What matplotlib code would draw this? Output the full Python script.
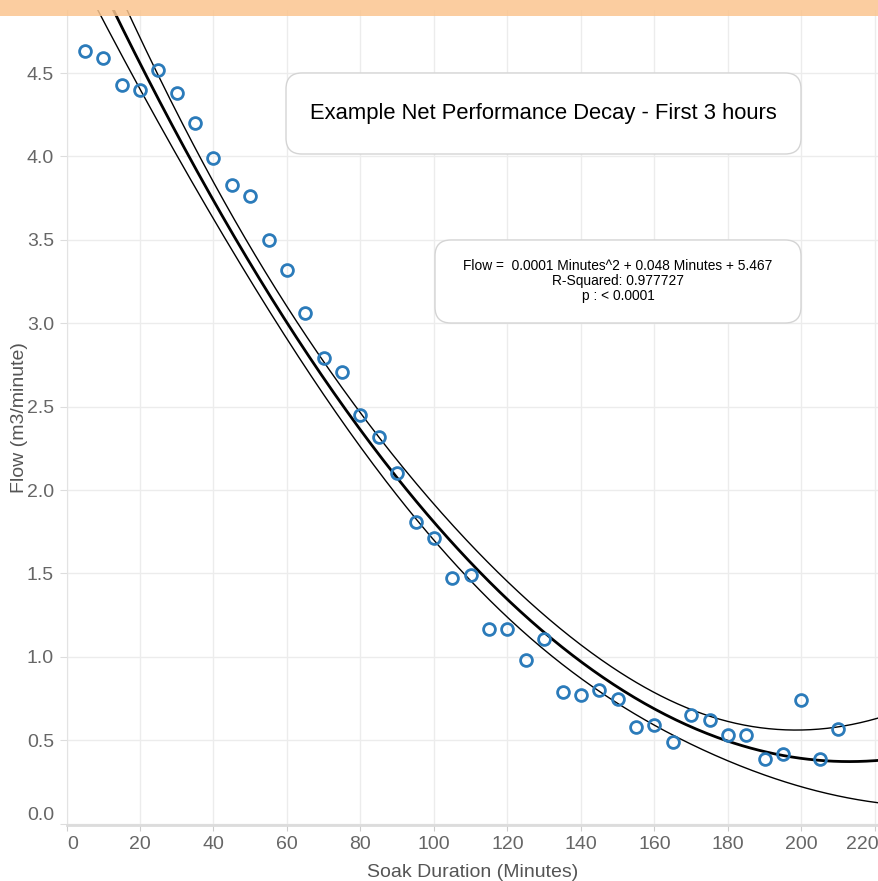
import numpy as np
import matplotlib
matplotlib.use("Agg")
import matplotlib.pyplot as plt
from matplotlib.patches import FancyBboxPatch, Rectangle
from matplotlib.transforms import ScaledTranslation

plt.rcParams["font.family"] = ["Liberation Sans", "DejaVu Sans"]

# soak duration (minutes) and measured flow (m3/minute)
minutes = [5, 10, 15, 20, 25, 30, 35, 40, 45, 50, 55, 60, 65, 70, 75, 80, 85,
           90, 95, 100, 105, 110, 115, 120, 125, 130, 135, 140, 145, 150, 155,
           160, 165, 170, 175, 180, 185, 190, 195, 200, 205, 210]
flow = [4.63, 4.59, 4.43, 4.40, 4.52, 4.38, 4.20, 3.99, 3.83, 3.76, 3.50,
        3.32, 3.06, 2.79, 2.71, 2.45, 2.32, 2.10, 1.81, 1.71, 1.47, 1.49,
        1.17, 1.17, 0.98, 1.11, 0.79, 0.77, 0.80, 0.75, 0.58, 0.59, 0.49,
        0.65, 0.62, 0.53, 0.53, 0.39, 0.42, 0.74, 0.39, 0.57]

y_ticks = [0.0, 0.5, 1.0, 1.5, 2.0, 2.5, 3.0, 3.5, 4.0, 4.5]
x_ticks = [0, 20, 40, 60, 80, 100, 120, 140, 160, 180, 200, 220]

title = "Example Net Performance Decay - First 3 hours"
fit_text = ("Flow =  0.0001 Minutes^2 + 0.048 Minutes + 5.467\n"
            "R-Squared: 0.977727\n"
            "p : < 0.0001")

W, H = 879, 881
fig = plt.figure(figsize=(W / 100, H / 100), dpi=100)
ax = fig.add_axes([66.5 / W, 56 / H, 1 - 66.5 / W, (825 - 10) / H])

x = np.array(minutes, dtype=float)
y = np.array(flow)

# quadratic trend with 95% confidence band
coef = np.polyfit(x, y, 2)
X = np.vstack([x ** 2, x, np.ones_like(x)]).T
resid = y - X @ coef
dof = len(x) - 3
s2 = resid @ resid / dof
cov = s2 * np.linalg.inv(X.T @ X)
xs = np.linspace(0, 225, 400)
Xs = np.vstack([xs ** 2, xs, np.ones_like(xs)]).T
ys = Xs @ coef
se = np.sqrt(np.einsum("ij,jk,ik->i", Xs, cov, Xs))
t = 2.02
ax.plot(xs, ys, color="black", lw=2.0, zorder=3)
ax.plot(xs, ys + t * se, color="black", lw=1.0, zorder=3)
ax.plot(xs, ys - t * se, color="black", lw=1.0, zorder=3)

ax.plot(minutes, flow, "o", ms=8.5, mfc="none", mec="#2b7bba", mew=2.0,
        zorder=4)

ax.set_xlim(0, (W - 66.5) / 3.675)
ax.set_ylim(-0.008, 4.878)
ax.set_xticks(x_ticks)
ax.set_yticks(y_ticks)
ax.set_yticklabels([f"{v:.1f}" for v in y_ticks])
ax.grid(color="#ececec", lw=1)
ax.set_axisbelow(True)
for side in ("top", "right"):
    ax.spines[side].set_visible(False)
ax.spines["left"].set_color("#e3e3e3")
ax.spines["bottom"].set_color("#dcdcdc")
ax.spines["bottom"].set_linewidth(2)
ax.tick_params(axis="y", length=5, color="#dddddd", pad=4, labelsize=14,
               labelcolor="#666666")
ax.tick_params(axis="x", length=4, color="#cccccc", pad=4, labelsize=14,
               labelcolor="#666666")
# keep edge labels inside the frame
xl = ax.get_xticklabels()
xl[0].set_transform(xl[0].get_transform() + ScaledTranslation(0.06, 0, fig.dpi_scale_trans))
xl[-1].set_transform(xl[-1].get_transform() + ScaledTranslation(-0.13, 0, fig.dpi_scale_trans))
yl = ax.get_yticklabels()
yl[0].set_transform(yl[0].get_transform() + ScaledTranslation(0, 0.10, fig.dpi_scale_trans))

ax.set_xlabel("Soak Duration (Minutes)", fontsize=14, color="#555555", labelpad=8)
ax.set_ylabel("Flow (m3/minute)", fontsize=14, color="#555555")
ax.yaxis.set_label_coords(-0.047, 0.5)


def box(x0, y0, x1, y1):
    p = FancyBboxPatch((x0 / W, 1 - y1 / H), (x1 - x0) / W, (y1 - y0) / H,
                       boxstyle="round,pad=0,rounding_size=0.018",
                       transform=fig.transFigure, fc="white", ec="#d4d4d4",
                       lw=1.0, zorder=5)
    fig.add_artist(p)


box(286, 73, 801, 154)
fig.text(543.5 / W, 1 - 113 / H, title, ha="center", va="center",
         fontsize=15.8, color="black", zorder=6)
box(435, 240, 801, 323)
fig.text(618 / W, 1 - 281 / H, fit_text, ha="center", va="center",
         fontsize=9.9, color="black", linespacing=1.05, zorder=6)

# orange banner across the top
fig.add_artist(Rectangle((0, 1 - 16 / H), 1, 16 / H, transform=fig.transFigure,
                         fc="#fbc58f", alpha=0.85, ec="none", zorder=10))

fig.savefig("out.png", dpi=100)
